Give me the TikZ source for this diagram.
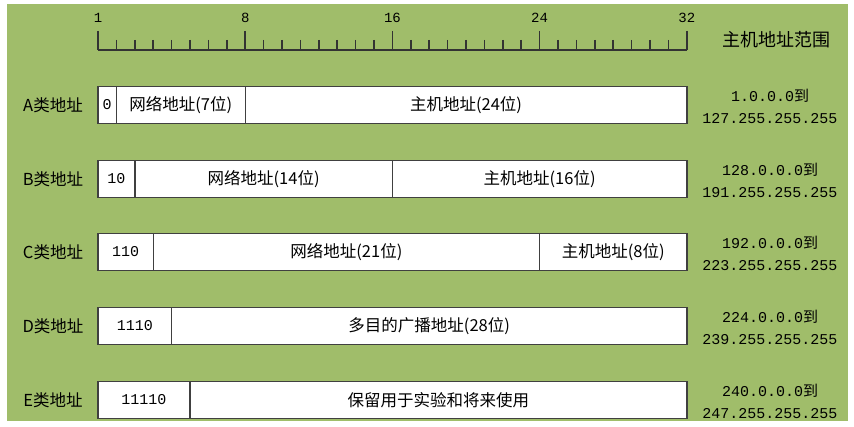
\documentclass[tikz,border=0pt]{standalone}
\usepackage{fontspec}
\setmainfont{Noto Sans CJK SC}
\setmonofont{Liberation Mono}
\usepackage{xcolor}
\usepackage{tikz}
\usetikzlibrary{positioning,calc}
\definecolor{bggreen}{RGB}{160,189,106}
\definecolor{cellline}{RGB}{64,64,64}
\newcommand{\bw}{18.4pt}
\newcommand{\rng}[2]{{\ttfamily #1}到\\{\ttfamily #2}}

\begin{document}
\begin{tikzpicture}[
  x=1pt, y=-1pt,
  font=\fontsize{16.5}{22}\selectfont,
  cell/.style={draw=cellline, line width=1.4pt, fill=white, minimum height=37pt,
    inner sep=0pt, outer sep=0pt},
  pre/.style={cell, font=\fontsize{15}{22}\selectfont\ttfamily},
  cls/.style={anchor=center},
  rng/.style={align=center, font=\fontsize{15}{22}\selectfont},
  num/.style={font=\fontsize{14}{16}\selectfont\ttfamily, inner sep=0pt},
  tick/.style={draw=black!80, line width=1.5pt}
]
\useasboundingbox (0,0) rectangle (854,427);
\fill[bggreen] (7,4) rectangle (848,421);

% ---- ruler ------------------------------------------------------------------
\draw[tick] (98,50) -- (687,50);
\foreach \i in {1,...,31}
  \draw[tick] ({98+\i*18.4},40) -- ++(0,10);
\foreach \i/\t in {0/1, 8/8, 16/16, 24/24, 32/32} {
  \draw[tick] ({98+\i*18.4},31) -- ++(0,19);
  \node[num] (tk\t) at ({98+\i*18.4},18) {\t};
}
\node[font=\fontsize{18}{20}\selectfont] (title) at (776,40) {主机地址范围};

% ---- A ----------------------------------------------------------------------
\node[cls] (labA) at (53,105) {A类地址};
\node[pre, minimum width=1*\bw, anchor=west] (A0) at (98,105) {0};
\node[cell, minimum width=7*\bw, right=0pt of A0] (A1) {网络地址(7位)};
\node[cell, minimum width=24*\bw, right=0pt of A1] (A2) {主机地址(24位)};
\node[rng] (rngA) at (770,106) {\rng{1.0.0.0}{127.255.255.255}};

% ---- B ----------------------------------------------------------------------
\node[cls] (labB) at (53,179) {B类地址};
\node[pre, minimum width=2*\bw, anchor=west] (B0) at (98,179) {10};
\node[cell, minimum width=14*\bw, right=0pt of B0] (B1) {网络地址(14位)};
\node[cell, minimum width=16*\bw, right=0pt of B1] (B2) {主机地址(16位)};
\node[rng] (rngB) at (770,180) {\rng{128.0.0.0}{191.255.255.255}};

% ---- C ----------------------------------------------------------------------
\node[cls] (labC) at (53,252) {C类地址};
\node[pre, minimum width=3*\bw, anchor=west] (C0) at (98,252) {110};
\node[cell, minimum width=21*\bw, right=0pt of C0] (C1) {网络地址(21位)};
\node[cell, minimum width=8*\bw, right=0pt of C1] (C2) {主机地址(8位)};
\node[rng] (rngC) at (770,253) {\rng{192.0.0.0}{223.255.255.255}};

% ---- D ----------------------------------------------------------------------
\node[cls] (labD) at (53,326) {D类地址};
\node[pre, minimum width=4*\bw, anchor=west] (D0) at (98,326) {1110};
\node[cell, minimum width=28*\bw, right=0pt of D0] (D1) {多目的广播地址(28位)};
\node[rng] (rngD) at (770,327) {\rng{224.0.0.0}{239.255.255.255}};

% ---- E ----------------------------------------------------------------------
\node[cls] (labE) at (53,400) {E类地址};
\node[pre, minimum width=5*\bw, anchor=west] (E0) at (98,400) {11110};
\node[cell, minimum width=27*\bw, right=0pt of E0] (E1) {保留用于实验和将来使用};
\node[rng] (rngE) at (770,401) {\rng{240.0.0.0}{247.255.255.255}};
\end{tikzpicture}
\end{document}
